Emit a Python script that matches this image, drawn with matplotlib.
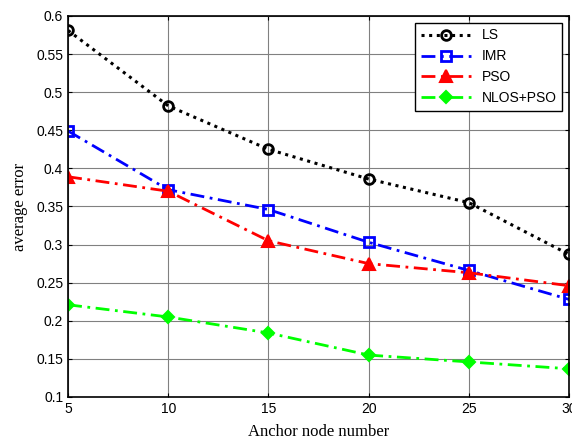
import numpy as np
import matplotlib
matplotlib.use("Agg")
import matplotlib.pyplot as plt

# data
anchors = [5, 10, 15, 20, 25, 30]
ls_err = [0.581, 0.482, 0.425, 0.386, 0.355, 0.287]
imr_err = [0.449, 0.372, 0.346, 0.303, 0.266, 0.228]
pso_err = [0.389, 0.370, 0.305, 0.275, 0.263, 0.246]
nlos_err = [0.221, 0.205, 0.184, 0.155, 0.146, 0.137]

plt.rcParams['font.family'] = ['Liberation Sans', 'DejaVu Sans']

fig = plt.figure(figsize=(5.72, 4.41), dpi=100)
ax = fig.add_axes([0.119, 0.0998, 0.876, 0.864])

ax.plot(anchors, ls_err, color='black', linestyle=(0, (1, 1.5)), linewidth=2.2,
        marker='o', markersize=7, markerfacecolor='none', markeredgewidth=2, label='LS')
ax.plot(anchors, imr_err, color='blue', linestyle=(0, (5, 2, 1, 2)), linewidth=2,
        marker='s', markersize=7, markerfacecolor='none', markeredgewidth=2, label='IMR')
ax.plot(anchors, pso_err, color='red', linestyle=(0, (5, 2, 1, 2)), linewidth=2,
        marker='^', markersize=8, markerfacecolor='red', markeredgewidth=1.5, label='PSO')
ax.plot(anchors, nlos_err, color='#00ff00', linestyle=(0, (5, 2, 1, 2)), linewidth=2,
        marker='D', markersize=6, markerfacecolor='#00ff00', markeredgewidth=1.5, label='NLOS+PSO')

ax.set_xlim(5, 30)
ax.set_ylim(0.1, 0.6)
ax.set_xticks(anchors)
ax.set_yticks(np.arange(0.1, 0.601, 0.05))
ax.set_yticklabels(['0.1', '0.15', '0.2', '0.25', '0.3', '0.35', '0.4', '0.45', '0.5', '0.55', '0.6'])
ax.tick_params(labelsize=10, direction='in', length=3, top=True, right=True)
ax.grid(True, color='#808080', linewidth=0.8)
for s in ax.spines.values():
    s.set_linewidth(1.2)

ax.set_xlabel('Anchor node number', family=['Liberation Serif'], fontsize=12, labelpad=6)
ax.set_ylabel('average error', family=['Liberation Serif'], fontsize=12, labelpad=6)

leg = ax.legend(loc='upper right', fontsize=10, fancybox=False, framealpha=1,
                edgecolor='black', handlelength=3.6, borderaxespad=0.5)
leg.get_frame().set_linewidth(1.0)

fig.savefig('out.png', dpi=100)
